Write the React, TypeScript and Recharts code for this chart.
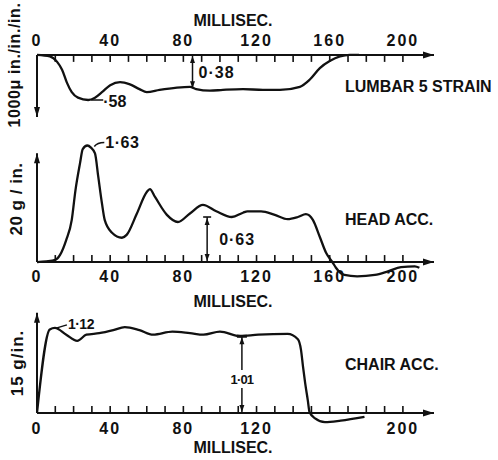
import React from "react";
import { Line, LineChart, ReferenceDot, ReferenceLine, XAxis, YAxis } from "recharts";

// time base (ms) and traces
const lumbarMs = [0, 7, 11, 13.7, 16.4, 19, 22.4, 28, 31.7, 35.5, 40, 45.4, 50.8, 56, 60, 67, 76.5, 83.6, 87, 94.5, 101.6, 112.6, 123.5, 132.8, 143.7, 149, 154.6, 160, 165.6, 171, 176];
const lumbarStrain = [0, -0.02, -0.09, -0.19, -0.36, -0.48, -0.55, -0.58, -0.55, -0.48, -0.39, -0.35, -0.38, -0.44, -0.48, -0.45, -0.42, -0.41, -0.44, -0.46, -0.45, -0.44, -0.45, -0.45, -0.41, -0.32, -0.17, -0.08, -0.02, 0, 0];

const headMs = [0, 5, 10, 12.6, 16, 19, 21, 23.5, 25, 27.5, 29.5, 31.7, 33.5, 35.5, 37, 41, 46.4, 49, 54.6, 60, 61.7, 64.5, 71, 77, 83.6, 90.7, 98, 106.5, 112.6, 115, 122.5, 130, 137, 142.6, 147, 150.8, 154.6, 158, 161.7, 163.4, 168, 175, 184.7, 191.8, 199, 206.5, 209];
const headAcc = [0, 0.01, 0.03, 0.1, 0.31, 0.59, 1.0, 1.38, 1.58, 1.63, 1.6, 1.52, 1.19, 0.82, 0.59, 0.41, 0.34, 0.38, 0.68, 0.98, 1.02, 0.91, 0.66, 0.56, 0.68, 0.8, 0.71, 0.63, 0.69, 0.71, 0.71, 0.66, 0.6, 0.63, 0.67, 0.59, 0.35, 0.13, -0.01, -0.08, -0.18, -0.2, -0.18, -0.13, -0.07, -0.06, -0.08];

const chairMs = [0, 7, 9.8, 16, 22, 27, 34, 41.7, 48, 56, 63.5, 74, 83.6, 91, 100, 111, 121, 137, 142.6, 144.3, 145.4, 146.6, 148, 149, 152, 157.4, 166, 179];
const chairAcc = [0, 1.1, 1.12, 1.03, 0.95, 1.03, 1.05, 1.09, 1.13, 1.09, 1.03, 1.07, 1.05, 1.03, 1.07, 1.01, 1.03, 1.04, 0.97, 0.83, 0.61, 0.39, 0.17, 0.01, -0.07, -0.12, -0.1, -0.05];

const tickMs = [10, 20, 30, 40, 50, 60, 70, 80, 90, 100, 110, 120, 130, 140, 150, 160, 170, 180, 190, 200];
const lumbarLabels = [0, 40, 80, 120, 160, 200];
const headLabels = [0, 40, 80, 120, 160, 200];
const chairLabels = [0, 40, 80, 120, 200];

const W = 498;
const H = 460;
const X_MAX = 217;
const INK = "#111";
const FONT = '"Liberation Sans", Arial, sans-serif';

const rows = (ms: number[], v: number[]) => ms.map((t, i) => ({ ms: t, v: v[i] }));

function Txt({ x, y, rot, start, size = 16, spacing = 0, children }: any) {
  return (
    <div
      style={{
        position: "absolute",
        left: x,
        top: y,
        transform: `translate(${start ? "0" : "-50%"}, -50%)${rot ? " rotate(-90deg)" : ""}`,
        fontFamily: FONT,
        fontWeight: 700,
        fontSize: size,
        letterSpacing: spacing,
        color: INK,
        whiteSpace: "nowrap",
        lineHeight: 1,
      }}
    >
      {children}
    </div>
  );
}

function Panel({ data, domain, mTop, mBottom, yEnd, dir, labelDy, labels, children }: any) {
  return (
    <div style={{ position: "absolute", left: 0, top: 0 }}>
      <LineChart width={W} height={H} data={data} margin={{ top: mTop, right: 64, bottom: mBottom, left: 37 }}>
        <XAxis type="number" dataKey="ms" domain={[0, X_MAX]} hide allowDataOverflow />
        <YAxis type="number" domain={domain} hide allowDataOverflow />
        {/* x axis with arrow */}
        <ReferenceLine
          segment={[{ x: 0, y: 0 }, { x: X_MAX, y: 0 }]}
          stroke={INK}
          strokeWidth={2}
          label={(p: any) => {
            const ex = p.viewBox.x + p.viewBox.width;
            const ey = p.viewBox.y;
            return <polygon points={`${ex},${ey} ${ex - 11},${ey - 3.5} ${ex - 11},${ey + 3.5}`} fill={INK} />;
          }}
        />
        {/* y axis with arrow */}
        <ReferenceLine
          segment={[{ x: 0, y: 0 }, { x: 0, y: yEnd }]}
          stroke={INK}
          strokeWidth={2}
          label={(p: any) => {
            const x = p.viewBox.x;
            const ty = yEnd < 0 ? p.viewBox.y + p.viewBox.height : p.viewBox.y;
            const s = yEnd < 0 ? -1 : 1;
            return <polygon points={`${x},${ty} ${x - 3},${ty + s * 10} ${x + 3},${ty + s * 10}`} fill={INK} />;
          }}
        />
        {tickMs.map((t) => (
          <ReferenceDot
            key={"t" + t}
            x={t}
            y={0}
            r={0}
            shape={(p: any) => <line x1={p.cx} x2={p.cx} y1={p.cy} y2={p.cy + dir * 7} stroke={INK} strokeWidth={1.6} />}
          />
        ))}
        {labels.map((v: number) => (
          <ReferenceDot
            key={"l" + v}
            x={v}
            y={0}
            r={0}
            shape={(p: any) => (
              <text x={p.cx} y={p.cy + labelDy} textAnchor="middle" dominantBaseline="central" fontFamily={FONT} fontWeight={700} fontSize={16} letterSpacing={2} fill={INK}>
                {v}
              </text>
            )}
          />
        ))}
        <Line dataKey="v" type="monotone" stroke={INK} strokeWidth={2.3} dot={false} isAnimationActive={false} />
        {children}
      </LineChart>
    </div>
  );
}

const upArrow = (x: number, y: number) => <polygon points={`${x},${y} ${x - 2.5},${y + 7} ${x + 2.5},${y + 7}`} fill={INK} />;
const downArrow = (x: number, y: number) => <polygon points={`${x},${y} ${x - 2.5},${y - 7} ${x + 2.5},${y - 7}`} fill={INK} />;

export default function App() {
  return (
    <div style={{ position: "absolute", left: 0, top: 0, width: W, height: H, background: "#fff" }}>
      <Panel data={rows(lumbarMs, lumbarStrain)} domain={[-0.85, 0.05]} mTop={51} mBottom={339} yEnd={-0.8} dir={1} labelDy={-14} labels={lumbarLabels}>
        <ReferenceDot
          x={28}
          y={-0.58}
          r={0}
          shape={(p: any) => (
            <g>
              <line x1={p.cx + 3} x2={p.cx + 15} y1={p.cy} y2={p.cy} stroke={INK} strokeWidth={1.5} />
              <text x={p.cx + 15} y={p.cy + 1} dominantBaseline="central" fontFamily={FONT} fontWeight={700} fontSize={16} fill={INK}>
                ·58
              </text>
            </g>
          )}
        />
        <ReferenceLine
          segment={[{ x: 85, y: 0 }, { x: 85, y: -0.43 }]}
          stroke={INK}
          strokeWidth={1.5}
          label={(p: any) => {
            const { x, y, height } = p.viewBox;
            return (
              <g>
                {upArrow(x, y + 1)}
                {downArrow(x, y + height)}
                <text x={x + 6} y={y + 18} dominantBaseline="central" fontFamily={FONT} fontWeight={700} fontSize={16} letterSpacing={1} fill={INK}>
                  0·38
                </text>
              </g>
            );
          }}
        />
      </Panel>

      <Panel data={rows(headMs, headAcc)} domain={[-0.3, 1.7]} mTop={140.5} mBottom={176.5} yEnd={1.52} dir={-1} labelDy={14} labels={headLabels}>
        <ReferenceDot
          x={27.5}
          y={1.63}
          r={0}
          shape={(p: any) => (
            <g>
              <path d={`M${p.cx + 7},${p.cy + 1} Q${p.cx + 10},${p.cy - 3} ${p.cx + 17},${p.cy - 3}`} stroke={INK} strokeWidth={1.5} fill="none" />
              <text x={p.cx + 18} y={p.cy - 3} dominantBaseline="central" fontFamily={FONT} fontWeight={700} fontSize={16} letterSpacing={0.5} fill={INK}>
                1·63
              </text>
            </g>
          )}
        />
        <ReferenceLine
          segment={[{ x: 93, y: 0 }, { x: 93, y: 0.63 }]}
          stroke={INK}
          strokeWidth={1.5}
          label={(p: any) => {
            const { x, y, height } = p.viewBox;
            return (
              <g>
                <line x1={x - 4} x2={x + 4} y1={y} y2={y} stroke={INK} strokeWidth={1.6} />
                {upArrow(x, y + 1)}
                {downArrow(x, y + height - 1)}
                <text x={x + 12} y={y + height - 23} dominantBaseline="central" fontFamily={FONT} fontWeight={700} fontSize={16} letterSpacing={1} fill={INK}>
                  0·63
                </text>
              </g>
            );
          }}
        />
      </Panel>

      <Panel data={rows(chairMs, chairAcc)} domain={[-0.2, 1.4]} mTop={306.6} mBottom={31.8} yEnd={1.32} dir={-1} labelDy={15} labels={chairLabels}>
        <ReferenceDot
          x={9.8}
          y={1.12}
          r={0}
          shape={(p: any) => (
            <g>
              <line x1={p.cx + 2} x2={p.cx + 12} y1={p.cy} y2={p.cy - 3} stroke={INK} strokeWidth={1.5} />
              <text x={p.cx + 13} y={p.cy - 4} dominantBaseline="central" fontFamily={FONT} fontWeight={700} fontSize={14} letterSpacing={-0.5} fill={INK}>
                1·12
              </text>
            </g>
          )}
        />
        <ReferenceLine
          segment={[{ x: 112, y: 0 }, { x: 112, y: 1.01 }]}
          stroke={INK}
          strokeWidth={1.5}
          label={(p: any) => {
            const { x, y, height } = p.viewBox;
            const ty = y + height - 34;
            return (
              <g>
                <line x1={x - 5} x2={x + 5} y1={y} y2={y} stroke={INK} strokeWidth={3} />
                {upArrow(x, y + 1)}
                {downArrow(x, y + height - 1)}
                <rect x={x - 10} y={ty - 9} width={20} height={18} fill="#fff" />
                <text x={x} y={ty} textAnchor="middle" dominantBaseline="central" fontFamily={FONT} fontWeight={700} fontSize={13} letterSpacing={-0.8} fill={INK}>
                  1·01
                </text>
              </g>
            );
          }}
        />
      </Panel>

      <Txt x={233} y={21}>MILLISEC.</Txt>
      <Txt x={233} y={302}>MILLISEC.</Txt>
      <Txt x={233} y={448}>MILLISEC.</Txt>
      <Txt x={345} y={87} start>LUMBAR 5 STRAIN</Txt>
      <Txt x={345} y={220} start>HEAD ACC.</Txt>
      <Txt x={345} y={365} start>CHAIR ACC.</Txt>
      <Txt x={15} y={65} rot spacing={0.6}>1000μ in./in./in.</Txt>
      <Txt x={16} y={199} rot size={17} spacing={0.5}>20 g / in.</Txt>
      <Txt x={17} y={363} rot size={17} spacing={1}>15 g/in.</Txt>
    </div>
  );
}
